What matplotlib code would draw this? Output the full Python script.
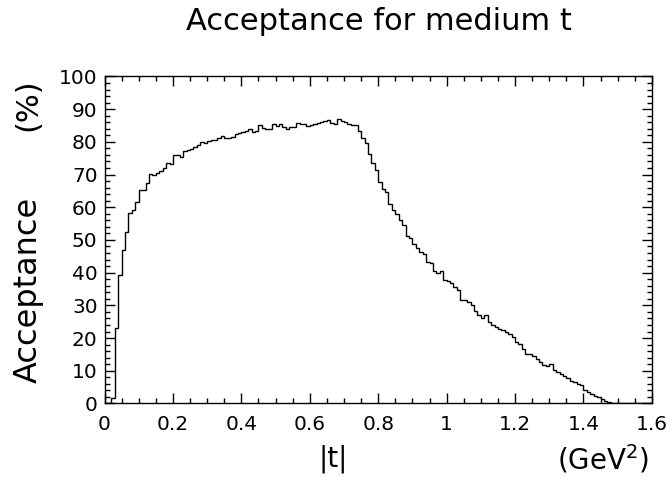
import numpy as np
from matplotlib import pyplot as plt
from matplotlib.ticker import MultipleLocator

# acceptance (%) per |t| bin, bin width 0.01 GeV^2 from 0 to 1.6
acc = [0, 0, 1.7, 23.1, 39.4, 46.8, 52.5, 58.3, 59.3, 61.5,
       65.4, 65.4, 67.3, 70.1, 69.8, 70.6, 71.1, 72.1, 73.6, 73.2,
       76.0, 76.0, 75.3, 77.2, 77.5, 77.8, 78.5, 79.0, 79.9, 79.7,
       80.3, 80.5, 80.7, 81.1, 81.8, 81.2, 81.2, 81.5, 82.4, 82.8,
       83.0, 83.4, 84.0, 83.1, 83.4, 85.1, 84.1, 83.8, 83.8, 85.4,
       85.0, 85.4, 84.6, 84.0, 84.4, 84.6, 85.8, 85.4, 85.4, 85.0,
       85.2, 85.4, 85.8, 86.1, 86.4, 86.6, 85.8, 85.4, 87.0, 86.4,
       86.0, 85.4, 85.1, 85.1, 83.4, 81.3, 79.7, 76.4, 73.4, 71.3,
       67.8, 65.7, 64.7, 60.9, 59.1, 57.9, 56.0, 54.5, 51.1, 50.7,
       48.9, 47.5, 46.3, 45.6, 43.3, 42.8, 40.5, 39.9, 40.5, 37.7,
       37.5, 36.8, 35.6, 34.6, 31.7, 31.6, 31.0, 30.0, 28.3, 26.9,
       26.2, 26.9, 24.9, 23.9, 23.4, 22.9, 22.4, 21.8, 21.1, 20.3,
       18.8, 18.1, 16.7, 15.2, 15.0, 14.4, 13.7, 12.7, 11.9, 11.3,
       12.1, 10.1, 9.6, 8.9, 8.3, 7.9, 7.0, 6.5, 5.8, 5.5,
       4.2, 3.5, 2.8, 2.4, 1.9, 1.4, 0.7, 0.3, 0.2, 0,
       0, 0, 0, 0, 0, 0, 0, 0, 0, 0]
t_edges = np.round(np.arange(len(acc)+1)*0.01, 2)

xticks = [0, 0.2, 0.4, 0.6, 0.8, 1, 1.2, 1.4, 1.6]
xticklabels = ['0', '0.2', '0.4', '0.6', '0.8', '1', '1.2', '1.4', '1.6']
yticks = list(range(0, 101, 10))

plt.rcParams['font.family'] = ['DejaVu Sans']
fig = plt.figure(figsize=(6.7, 4.78), dpi=100)
ax = fig.add_axes([0.156, 0.156, 0.817, 0.684])

ax.stairs(acc, t_edges, color='black', lw=1.0)

ax.set_xlim(0, 1.6)
ax.set_ylim(0, 100)
ax.set_xticks(xticks)
ax.set_xticklabels(xticklabels)
ax.set_yticks(yticks)
ax.xaxis.set_minor_locator(MultipleLocator(0.05))
ax.yaxis.set_minor_locator(MultipleLocator(2))
ax.tick_params(which='both', direction='in', top=True, right=True, labelsize=14.5)
ax.tick_params(which='major', length=7, width=1)
ax.tick_params(which='minor', length=3.6, width=1)
ax.tick_params(axis='x', pad=8)
ax.tick_params(axis='y', pad=5)
for s in ax.spines.values():
    s.set_linewidth(1)

# PAW style labels
fig.text(0.566, 0.955, 'Acceptance for medium t', fontsize=22, ha='center', va='center')
fig.text(0.042, 0.393, 'Acceptance', fontsize=23, rotation=90, ha='center', va='center')
fig.text(0.042, 0.78, '(%)', fontsize=22, rotation=90, ha='center', va='center')
fig.text(0.497, 0.04, '|t|', fontsize=20, ha='center', va='center')
fig.text(0.9, 0.04, '(GeV$^2$)', fontsize=20, ha='center', va='center')

plt.savefig('out.png', dpi=100)
